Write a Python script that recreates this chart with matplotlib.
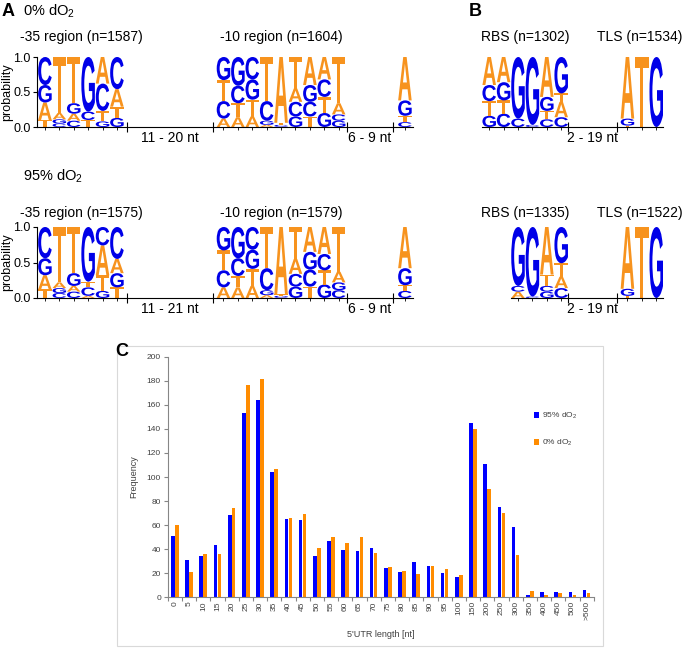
import numpy as np
import matplotlib
matplotlib.use("Agg")
import matplotlib.pyplot as plt
from matplotlib.textpath import TextPath
from matplotlib.patches import PathPatch, Rectangle
from matplotlib.font_manager import FontProperties
from matplotlib.transforms import Affine2D

plt.rcParams['font.family'] = ['Liberation Sans', 'DejaVu Sans']
plt.rcParams['mathtext.default'] = 'regular'

# ---------------------------
# Logo data: each column is a stack (bottom -> top) of (base, probability)
# ---------------------------

# 0% dO2
m35_0 = [[("T", .10), ("A", .25), ("G", .25), ("C", .40)],
         [("C", .05), ("G", .06), ("A", .09), ("T", .80)],
         [("C", .09), ("A", .10), ("G", .15), ("T", .66)],
         [("T", .10), ("C", .12), ("G", .78)],
         [("G", .08), ("T", .15), ("C", .39), ("A", .38)],
         [("G", .13), ("T", .16), ("A", .25), ("C", .46)]]
m10_0 = [[("A", .12), ("C", .25), ("T", .30), ("G", .33)],
         [("A", .14), ("T", .20), ("C", .25), ("G", .41)],
         [("A", .15), ("T", .24), ("G", .29), ("C", .32)],
         [("A", .03), ("G", .06), ("C", .28), ("T", .63)],
         [("G", .01), ("C", .02), ("T", .03), ("A", .94)],
         [("G", .15), ("C", .21), ("A", .19), ("T", .45)],
         [("T", .15), ("C", .21), ("G", .24), ("A", .40)],
         [("G", .20), ("T", .23), ("C", .25), ("A", .32)],
         [("G", .09), ("C", .09), ("A", .16), ("T", .66)]]
tss_0 = [[("C", .07), ("T", .09), ("G", .22), ("A", .62)]]
rbs_0 = [[("G", .16), ("T", .21), ("C", .23), ("A", .40)],
         [("C", .19), ("T", .19), ("G", .26), ("A", .36)],
         [("C", .12), ("G", .88)],
         [("C", .03), ("G", .97)],
         [("C", .11), ("T", .12), ("G", .20), ("A", .57)],
         [("C", .14), ("A", .22), ("T", .12), ("G", .52)]]
tls_0 = [[("T", .02), ("G", .10), ("A", .88)],
         [("T", 1.0)],
         [("G", 1.0)]]

# 95% dO2
m35_95 = [[("T", .12), ("A", .20), ("G", .24), ("C", .44)],
          [("C", .07), ("G", .07), ("A", .08), ("T", .78)],
          [("C", .09), ("A", .08), ("G", .18), ("T", .65)],
          [("A", .03), ("C", .12), ("T", .08), ("G", .77)],
          [("G", .10), ("T", .22), ("A", .42), ("C", .26)],
          [("T", .15), ("G", .20), ("A", .20), ("C", .45)]]
m10_95 = [[("A", .15), ("C", .24), ("T", .28), ("G", .33)],
          [("A", .15), ("T", .16), ("C", .25), ("G", .44)],
          [("A", .17), ("T", .24), ("G", .27), ("C", .32)],
          [("A", .04), ("G", .07), ("C", .31), ("T", .58)],
          [("C", .01), ("G", .02), ("T", .02), ("A", .95)],
          [("G", .16), ("C", .18), ("A", .21), ("T", .45)],
          [("T", .16), ("C", .24), ("G", .25), ("A", .35)],
          [("G", .19), ("T", .20), ("C", .23), ("A", .38)],
          [("C", .11), ("G", .11), ("A", .15), ("T", .63)]]
tss_95 = [[("C", .10), ("T", .08), ("G", .24), ("A", .58)]]
rbs_95 = [[("A", .09), ("C", .08), ("G", .83)],
          [("C", .02), ("G", .98)],
          [("G", .09), ("C", .08), ("T", .16), ("A", .67)],
          [("C", .14), ("A", .16), ("T", .19), ("G", .51)]]
tls_95 = [[("T", .03), ("G", .10), ("A", .87)],
          [("T", 1.0)],
          [("G", 1.0)]]

# ---------------------------
# 5'UTR length histogram
# ---------------------------
utr_bins = ["0", "5", "10", "15", "20", "25", "30", "35", "40", "45", "50",
            "55", "60", "65", "70", "75", "80", "85", "90", "95", "100",
            "150", "200", "250", "300", "350", "400", "450", "500", ">500"]
freq_95 = [51, 31, 34, 43, 68, 153, 164, 104, 65, 64, 34, 47, 39, 38, 41,
           24, 21, 29, 26, 20, 17, 145, 111, 75, 58, 2, 4, 4, 4, 6]
freq_0 = [60, 21, 36, 36, 74, 177, 182, 107, 66, 69, 41, 50, 45, 50, 37,
          25, 22, 19, 26, 23, 18, 140, 90, 70, 35, 5, 2, 3, 2, 3]

# ---------------------------
# Figure
# ---------------------------
W, H = 685, 654
fig = plt.figure(figsize=(W / 100, H / 100), dpi=100)


def px_axes(left, top, right, bottom):
    return fig.add_axes([left / W, 1 - bottom / H, (right - left) / W, (bottom - top) / H])


LOGO_FONT = FontProperties(family='Liberation Sans', weight='bold')
LOGO_COLORS = {'A': '#f7931e', 'T': '#f7931e', 'C': '#0000e8', 'G': '#0000e8'}


def draw_logo(ax, x0, columns):
    centers = []
    for i, col in enumerate(columns):
        y = 0.0
        for letter, h in col:
            tp = TextPath((0, 0), letter, size=1, prop=LOGO_FONT)
            bb = tp.get_extents()
            tr = (Affine2D().translate(-bb.x0, -bb.y0)
                  .scale(0.94 / bb.width, h / bb.height)
                  .translate(x0 + i + 0.03, y))
            ax.add_patch(PathPatch(tr.transform_path(tp), facecolor=LOGO_COLORS[letter],
                                   edgecolor='none'))
            y += h
        centers.append(x0 + i + 0.5)
    return centers


def logo_row(ax, blocks, gaps, titles, title_y, xmax, base_start, yaxis):
    ax.set_xlim(0, xmax)
    ax.set_ylim(0, 1)
    ax.patch.set_visible(False)
    centers = []
    for x0, cols in blocks:
        centers += draw_logo(ax, x0, cols)
    for xa, xb, label in gaps:
        ax.plot([xa, xb], [0, 0], ls='none', marker='|', ms=7, mew=0.8, color='black',
                clip_on=False)
        ax.text((xa + xb) / 2, -0.16, label, ha='center', va='center', fontsize=10)
    for xc, title in titles:
        ax.annotate(title, xy=(xc, H - title_y), xycoords=('data', 'figure pixels'),
                    ha='center', va='center', fontsize=10)
    for s in ['top', 'right']:
        ax.spines[s].set_visible(False)
    ax.spines['bottom'].set_bounds(base_start, xmax)
    ax.spines['bottom'].set_linewidth(0.8)
    ax.set_xticks(centers)
    ax.set_xticklabels([])
    ax.tick_params(axis='x', length=2.5, width=0.6, direction='out')
    if yaxis:
        ax.spines['left'].set_linewidth(0.8)
        ax.set_yticks([0, 0.5, 1.0])
        ax.set_yticklabels(['0.0', '0.5', '1.0'], fontsize=9)
        ax.tick_params(axis='y', length=3, width=0.8, pad=1.5)
    else:
        ax.spines['left'].set_visible(False)
        ax.set_yticks([])


# Panel A / B, two rows
rows = [
    (57, 127, 37, (m35_0, m10_0, tss_0), (rbs_0, tls_0),
     ["-35 region (n=1587)", "-10 region (n=1604)"], ["RBS (n=1302)", "TLS (n=1534)"],
     ["11 - 20 nt", "6 - 9 nt", "2 - 19 nt"]),
    (227, 298, 213, (m35_95, m10_95, tss_95), (rbs_95, tls_95),
     ["-35 region (n=1575)", "-10 region (n=1579)"], ["RBS (n=1335)", "TLS (n=1522)"],
     ["11 - 21 nt", "6 - 9 nt", "2 - 19 nt"]),
]

for top, base, ty, (m35, m10, tss), (rbs, tls), a_titles, b_titles, gl in rows:
    axa = px_axes(37, top, 37 + 26.1 * 14.4, base)
    logo_row(axa,
             blocks=[(0.05, m35), (12.45, m10), (25.05, tss)],
             gaps=[(6.25, 12.22, gl[0]), (21.5, 24.75, gl[1])],
             titles=[(0.05 + 3, a_titles[0]), (12.45 + 4.5, a_titles[1])],
             title_y=ty, xmax=26.1, base_start=0, yaxis=True)
    rbs_x0 = 6.0 - len(rbs)
    axb = px_axes(482, top, 482 + 12.6 * 14.4, base)
    logo_row(axb,
             blocks=[(rbs_x0, rbs), (9.6, tls)],
             gaps=[(6.0, 9.38, gl[2])],
             titles=[(3.0, b_titles[0]), (10.95, b_titles[1])],
             title_y=ty, xmax=12.6, base_start=rbs_x0, yaxis=False)
    fig.text(7 / W, 1 - (top + base) / 2 / H, 'probability', rotation=90,
             ha='center', va='center', fontsize=9)

fig.text(2 / W, 1 - 11 / H, 'A', fontsize=13, fontweight='bold', ha='left', va='center')
fig.text(23 / W, 1 - 11 / H, '0% dO$_2$', fontsize=10.5, ha='left', va='center')
fig.text(23 / W, 1 - 176 / H, '95% dO$_2$', fontsize=10.5, ha='left', va='center')
fig.text(469 / W, 1 - 11 / H, 'B', fontsize=13, fontweight='bold', ha='left', va='center')
fig.text(115 / W, 1 - 351 / H, 'C', fontsize=13, fontweight='bold', ha='left', va='center')

# ---------------------------
# Panel C: 5'UTR length distribution
# ---------------------------
axis_gray = '#868686'
text_gray = '#404040'
fig.add_artist(Rectangle((117 / W, 1 - 646 / H), (603 - 117) / W, (646 - 346) / H,
                         transform=fig.transFigure, fill=False, edgecolor='#d9d9d9', lw=0.8))

axc = px_axes(167.9, 357, 593.8, 597)
x = np.arange(len(utr_bins))
axc.bar(x - 0.28, freq_95, width=0.26, align='edge', color='#0000ff', label='95% dO$_2$')
axc.bar(x, freq_0, width=0.26, align='edge', color='#ff8c00', label='0% dO$_2$')
axc.set_xlim(-0.5, len(utr_bins) - 0.5)
axc.set_ylim(0, 200)
axc.set_yticks(range(0, 201, 20))
axc.set_xticks(x)
axc.set_xticklabels(utr_bins, rotation=90)
axc.set_xticks(np.arange(len(utr_bins) + 1) - 0.5, minor=True)
axc.tick_params(axis='x', which='major', length=0, pad=3, labelsize=6, labelcolor=text_gray)
axc.tick_params(axis='x', which='minor', length=3, width=0.8, color=axis_gray)
axc.tick_params(axis='y', length=3, width=0.8, color=axis_gray, labelsize=6,
                labelcolor=text_gray, pad=2)
for s in ['top', 'right']:
    axc.spines[s].set_visible(False)
for s in ['left', 'bottom']:
    axc.spines[s].set_color(axis_gray)
    axc.spines[s].set_linewidth(0.8)
axc.set_ylabel('Frequency', fontsize=6.5, color=text_gray, labelpad=6)
axc.set_xlabel("5'UTR length [nt]", fontsize=6.5, color=text_gray, labelpad=7)
axc.legend(loc='upper left', bbox_to_anchor=(534 / W, 1 - 411 / H),
           bbox_transform=fig.transFigure, frameon=False, fontsize=6,
           handlelength=0.6, handleheight=0.6, handletextpad=0.3,
           labelspacing=2.0, borderpad=0, borderaxespad=0, labelcolor=text_gray)

fig.savefig('out.png', dpi=100)
